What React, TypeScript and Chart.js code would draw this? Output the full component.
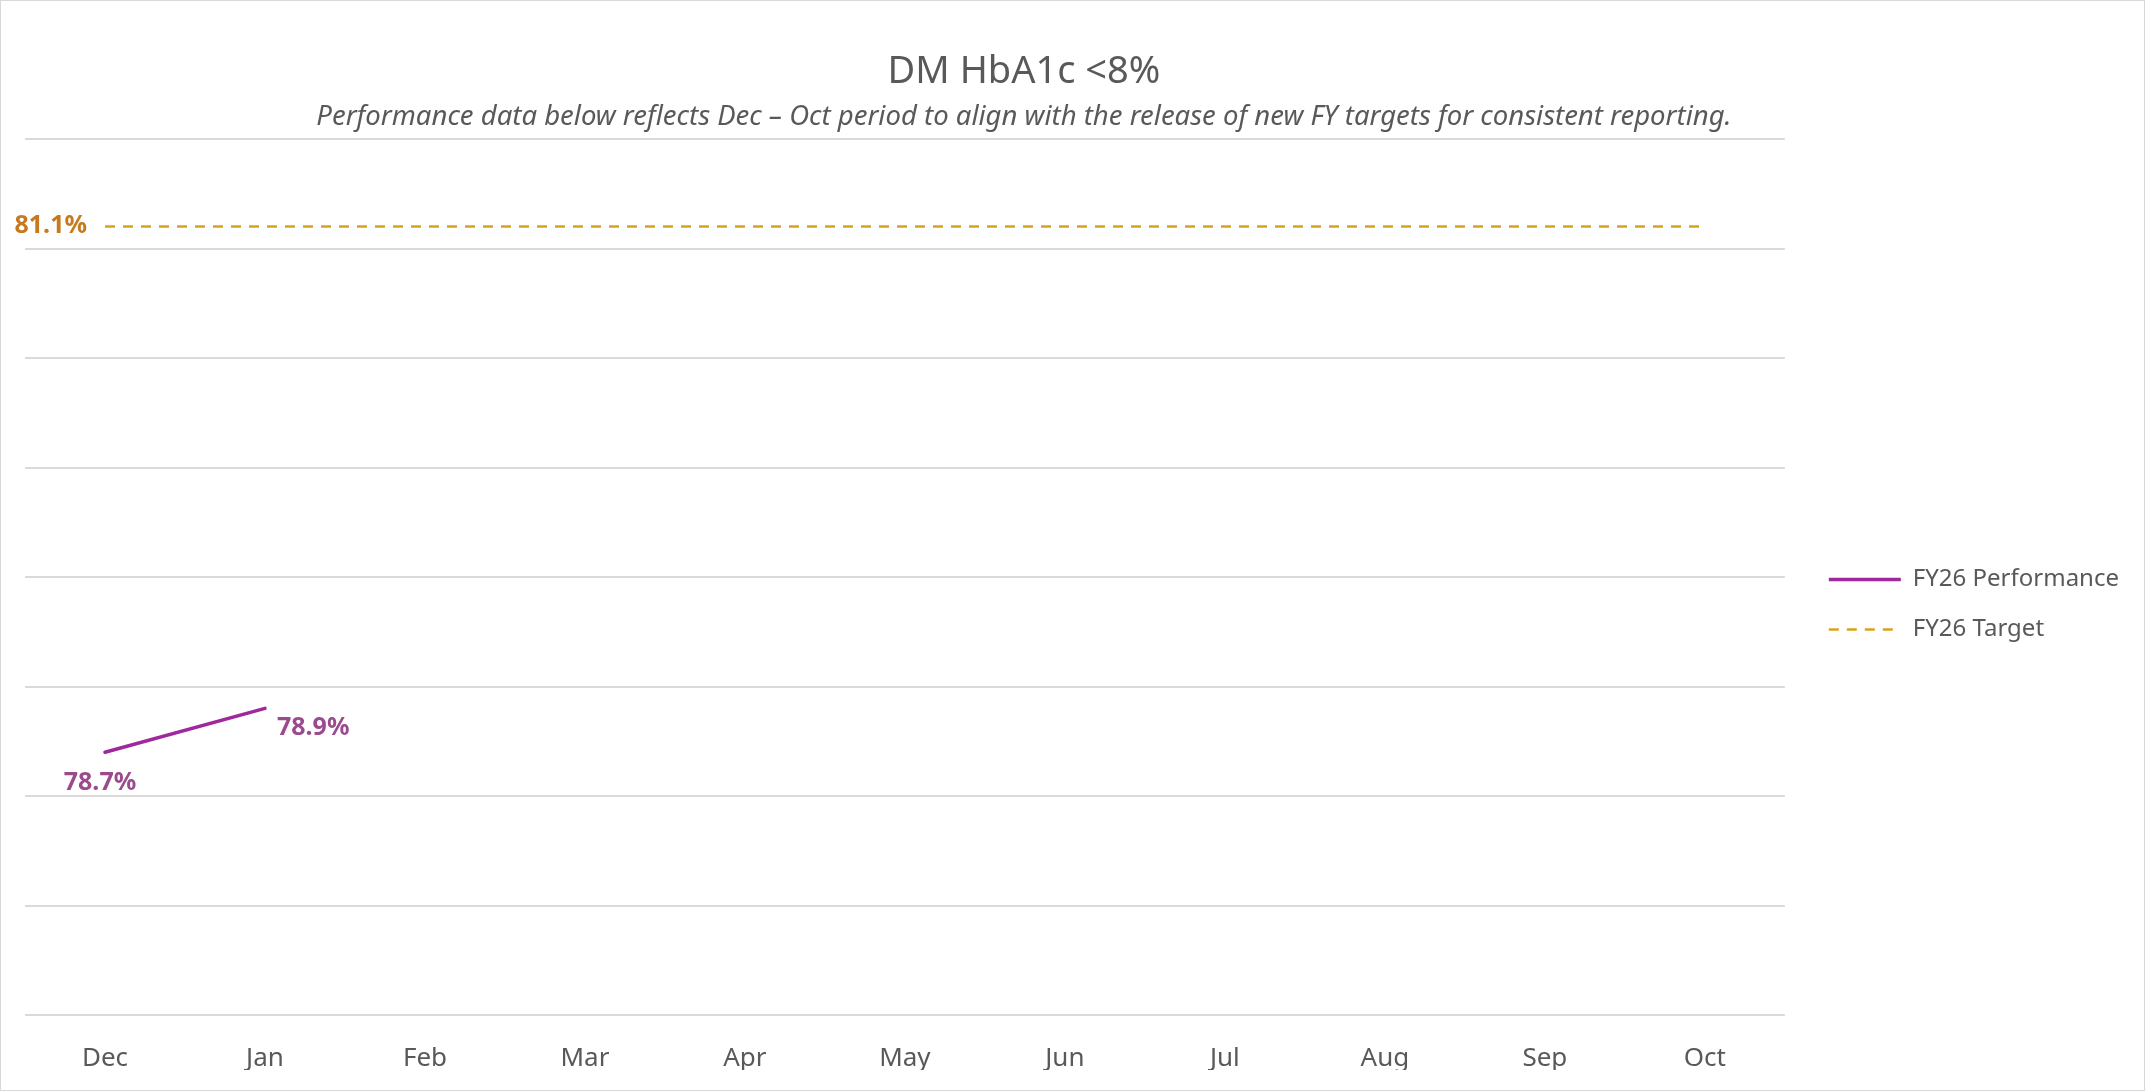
import React, { useEffect, useRef } from 'react';
import { Chart, registerables } from 'chart.js';

Chart.register(...registerables);

// ---- data ----
const months = ['Dec', 'Jan', 'Feb', 'Mar', 'Apr', 'May', 'Jun', 'Jul', 'Aug', 'Sep', 'Oct'];
const perfValues: (number | null)[] = [78.7, 78.9, null, null, null, null, null, null, null, null, null];
const targetValues: number[] = [81.1, 81.1, 81.1, 81.1, 81.1, 81.1, 81.1, 81.1, 81.1, 81.1, 81.1];
const seriesNames = ['FY26 Performance', 'FY26 Target'];
const yMin = 77.5;
const yMax = 81.5;
const yStep = 0.5;
const titleText = 'DM HbA1c <8%';
const subtitleText =
  'Performance data below reflects Dec \u2013 Oct period to align with the release of new FY targets for consistent reporting.';

const FONT = "'Noto Sans', 'Open Sans', sans-serif";
const GRAY = '#595959';
const PURPLE = '#A0279C';
const PURPLE_LABEL = '#9C4A8E';
const GOLD = '#D9A21B';
const ORANGE_LABEL = '#C8791C';

const titlePlugin = {
  id: 'customTitles',
  afterDraw(chart: any) {
    const ctx = chart.ctx;
    ctx.save();
    ctx.fillStyle = GRAY;
    ctx.textAlign = 'center';
    ctx.textBaseline = 'alphabetic';
    ctx.font = `38px ${FONT}`;
    ctx.fillText(titleText, 1023, 82);
    ctx.font = `italic 27.5px ${FONT}`;
    ctx.fillText(subtitleText, 1023, 124);
    ctx.restore();
  },
};

const pointLabelPlugin = {
  id: 'pointLabels',
  afterDatasetsDraw(chart: any, _args: any, opts: any) {
    const ctx = chart.ctx;
    const items = (opts && opts.items) || [];
    ctx.save();
    items.forEach((it: any) => {
      const ds = chart.data.datasets[it.dataset];
      const v = ds.data[it.index];
      if (v === null || v === undefined) return;
      const el = chart.getDatasetMeta(it.dataset).data[it.index];
      if (!el) return;
      ctx.font = `bold 25px ${FONT}`;
      ctx.fillStyle = it.color;
      ctx.textAlign = it.align;
      ctx.textBaseline = 'alphabetic';
      ctx.fillText(`${Number(v).toFixed(1)}%`, el.x + it.dx, el.y + it.dy);
    });
    ctx.restore();
  },
};

export default function App() {
  const canvasRef = useRef<HTMLCanvasElement | null>(null);

  useEffect(() => {
    if (!canvasRef.current) return;
    const defaultGen = (Chart as any).defaults.plugins.legend.labels.generateLabels;
    const chart = new Chart(canvasRef.current, {
      type: 'line',
      data: {
        labels: months,
        datasets: [
          {
            label: seriesNames[0],
            data: perfValues,
            borderColor: PURPLE,
            backgroundColor: PURPLE,
            borderWidth: 3.5,
            borderCapStyle: 'round',
            pointRadius: 0,
            pointHoverRadius: 0,
            tension: 0,
            spanGaps: false,
            fill: false,
          },
          {
            label: seriesNames[1],
            data: targetValues,
            borderColor: GOLD,
            backgroundColor: GOLD,
            borderWidth: 2.5,
            borderDash: [10, 8],
            pointRadius: 0,
            pointHoverRadius: 0,
            tension: 0,
            fill: false,
          },
        ],
      },
      options: {
        responsive: false,
        animation: false,
        devicePixelRatio: 1,
        layout: { padding: { top: 138, left: 24, right: 15, bottom: 20 } },
        scales: {
          x: {
            type: 'category',
            offset: true,
            grid: { display: false, drawTicks: false },
            border: { display: false },
            ticks: {
              color: GRAY,
              font: { size: 26, family: FONT },
              padding: 28,
              autoSkip: false,
              maxRotation: 0,
            },
            afterFit: (s: any) => {
              s.height = 55;
            },
          },
          y: {
            min: yMin,
            max: yMax,
            ticks: { stepSize: yStep, display: false },
            grid: { color: '#d9d9d9', lineWidth: 2, drawTicks: false },
            border: { display: false },
            afterFit: (s: any) => {
              s.width = 0;
            },
          },
          y2: {
            position: 'right',
            display: true,
            ticks: { display: false },
            grid: { display: false, drawTicks: false },
            border: { display: false },
            afterFit: (s: any) => {
              s.width = 18;
            },
          },
        },
        plugins: {
          title: { display: false },
          tooltip: { enabled: false },
          legend: {
            position: 'right',
            align: 'center',
            labels: {
              usePointStyle: true,
              pointStyle: 'line',
              pointStyleWidth: 72,
              padding: 26,
              color: GRAY,
              font: { size: 24, family: FONT },
              generateLabels: (ch: any) => {
                const items = defaultGen(ch);
                return items.map((item: any) => {
                  const ds = ch.data.datasets[item.datasetIndex];
                  return {
                    ...item,
                    pointStyle: 'line',
                    strokeStyle: ds.borderColor,
                    lineWidth: ds.borderWidth,
                    lineDash: ds.borderDash || [],
                    lineCap: 'butt',
                  };
                });
              },
            },
          },
          pointLabels: {
            items: [
              { dataset: 0, index: 0, align: 'center', dx: -5, dy: 38, color: PURPLE_LABEL },
              { dataset: 0, index: 1, align: 'left', dx: 12, dy: 27, color: PURPLE_LABEL },
              { dataset: 1, index: 0, align: 'right', dx: -18, dy: 6, color: ORANGE_LABEL },
            ],
          },
        } as any,
      },
      plugins: [titlePlugin, pointLabelPlugin],
    } as any);
    return () => chart.destroy();
  }, []);

  return (
    <div
      style={{
        position: 'fixed',
        left: 0,
        top: 0,
        width: 2145,
        height: 1091,
        boxSizing: 'border-box',
        border: '1px solid #d9d9d9',
        background: '#ffffff',
        overflow: 'hidden',
      }}
    >
      <canvas ref={canvasRef} width={2143} height={1089} style={{ display: 'block' }} />
    </div>
  );
}
